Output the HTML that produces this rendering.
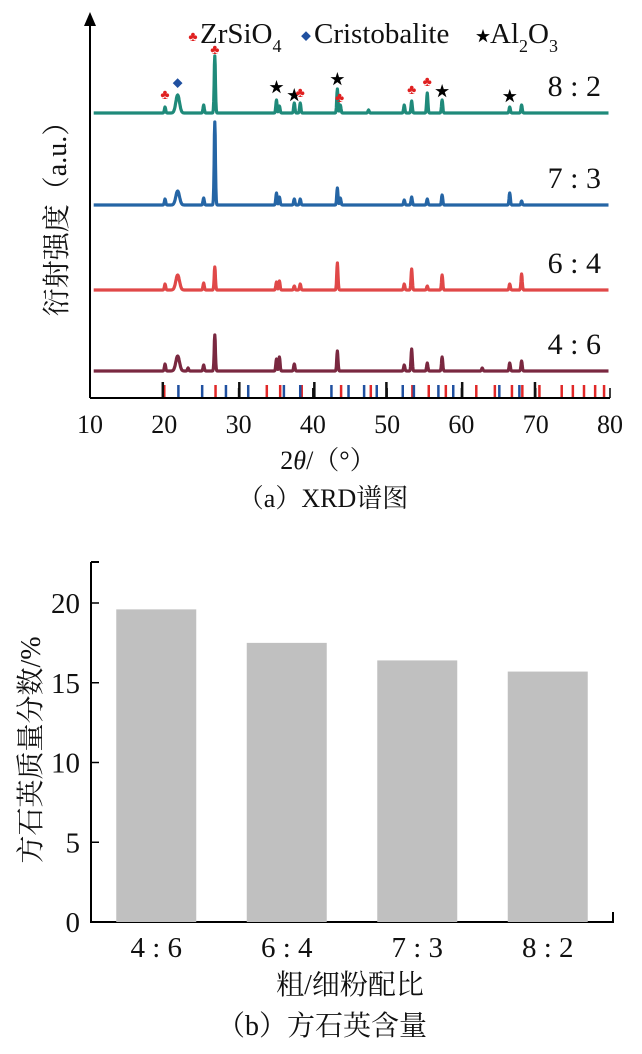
<!DOCTYPE html>
<html><head><meta charset="utf-8"><style>
html,body{margin:0;padding:0;background:#fff;width:642px;height:1054px;overflow:hidden}
svg{display:block}
text{font-family:"Liberation Serif","Noto Serif CJK SC","Noto Sans CJK SC",serif;fill:#111}
</style></head><body>
<svg id="chart" width="642" height="1054" viewBox="0 0 642 1054">
<g id="xrd"></g>
<g id="bar"></g>
</svg>
<script>
// ---------- XRD data ----------
const xrdSeries = ["8：2","7：3","6：4","4：6"];
const xrdBaselines = [113,205,290,371];
const xrdColors = ["#1f8a7a","#2565a5","#e04848","#7a2840"];
const peaks82 = [[20.1,6],[21.8,18],[25.3,8],[26.8,57],[35.1,13],[35.5,7],[37.5,10],[38.3,10],[43.3,24],[43.7,8],[47.5,3],[52.3,8],[53.3,12],[55.4,20],[57.4,13],[66.5,6],[68.1,8]];
const peaks73 = [[20.1,6],[21.8,14],[25.3,7],[26.8,83],[35.1,12],[35.5,8],[37.5,6],[38.3,6],[43.3,17],[43.7,7],[52.3,5],[53.3,8],[55.4,6],[57.4,10],[66.5,12],[68.1,4]];
const peaks64 = [[20.1,6],[21.8,15],[25.3,7],[26.8,23],[35.1,8],[35.5,9],[37.5,4],[38.3,6],[43.3,27],[52.3,6],[53.3,21],[55.4,4],[57.4,15],[66.5,6],[68.1,16]];
const peaks46 = [[20.1,7],[21.8,15],[23.2,3],[25.3,6],[26.8,36],[35.1,12],[35.5,14],[37.5,7],[43.3,20],[52.3,6],[53.3,22],[55.4,8],[57.4,14],[62.8,3],[66.5,8],[68.1,10]];
const xrdPeaks = [peaks82,peaks73,peaks64,peaks46];
const xTicks = [10,20,30,40,50,60,70,80];
const refZr = [20.0,26.9,33.8,35.6,38.5,43.8,47.8,53.4,55.6,57.9,62.0,64.5,66.8,68.2,70.5,73.5,75,76.5,78,79.2];
const refCr = [21.9,25.1,28.3,31.3,36.1,38.3,42.5,44.8,46.9,48.6,52.1,53.6,56.9,58.9,65.1,67.8];
const refAl = [19.8,30.1,40.2,49.9,60.1,69.9];
const markerPos = [[20.1,95,"club"],[21.8,83,"diamond"],[26.8,50,"club"],[35.1,88,"star"],[37.5,96,"star"],[38.3,93,"club"],[43.3,80,"star"],[43.6,98,"club"],[53.3,90,"club"],[55.4,82,"club"],[57.4,92,"star"],[66.5,97,"star"]];

const NS="http://www.w3.org/2000/svg";
function mk(tag,attrs,parent){const e=document.createElementNS(NS,tag);for(const k in attrs)e.setAttribute(k,attrs[k]);parent.appendChild(e);return e;}
const X0=90,X1=610;
function xs(t){return X0+(t-10)*(X1-X0)/70;}
const g=document.getElementById('xrd');

let ax=mk('path',{d:`M${X0} 398 H${X1} M${X0} 398 V20`,stroke:'#000','stroke-width':2,fill:'none'},g);


let ar=mk('path',{d:`M${X0-6} 26 L${X0} 12 L${X0+6} 26 Z`,fill:'#000'},g);


xTicks.forEach(t=>{
  let tk=mk('line',{x1:xs(t),x2:xs(t),y1:398,y2:388,stroke:'#000','stroke-width':1.5},g);
  
  
  let tl=mk('text',{x:xs(t),y:433,'text-anchor':'middle','font-size':26},g);
  tl.textContent=t;
  
  
});
function sticks(arr,color,h){arr.forEach(t=>{let s=mk('line',{x1:xs(t),x2:xs(t),y1:397,y2:397-h,stroke:color,'stroke-width':2.5},g);
  
  });}
sticks(refZr,'#e02828',12);sticks(refCr,'#2050a0',12);sticks(refAl,'#111',15);

xrdPeaks.forEach((pk,i)=>{
  let d='';
  for(let t=10.5;t<=79.8;t+=0.05){
    let y=0;
    pk.forEach(p=>{const w=(p[0]>21&&p[0]<22.5)?0.35:0.12;y+=p[1]*Math.exp(-Math.pow((t-p[0])/w,2));});
    d+=(d?'L':'M')+xs(t).toFixed(1)+' '+(xrdBaselines[i]-y).toFixed(1);
  }
  let p=mk('path',{d:d,stroke:xrdColors[i],'stroke-width':3.2,fill:'none','stroke-linejoin':'round'},g);
  
  
  let l=mk('text',{x:601,y:xrdBaselines[i]-17,'text-anchor':'end','font-size':30},g);
  l.textContent=xrdSeries[i].replace('：',' : ');
  
  
});
function marker(type,x,y){
  let t=mk('text',{x:x,y:y,'text-anchor':'middle','font-size':type==='star'?15:(type==='diamond'?10:14),'font-family':'DejaVu Sans'},g);
  t.textContent=type==='club'?'♣':type==='diamond'?'◆':'★';
  t.style.fill=type==='club'?'#e02020':type==='diamond'?'#2050a0':'#000';
  
  
}
markerPos.forEach(m=>marker(m[2],xs(m[0]),m[1]+4));
marker('club',193,41);marker('diamond',306,40);marker('star',483,41);
let lg=mk('text',{x:200,y:43,'font-size':29},g);
lg.innerHTML='ZrSiO<tspan font-size="18" dy="9">4</tspan>';

lg=mk('text',{x:314,y:43,'font-size':29},g);lg.textContent='Cristobalite';

lg=mk('text',{x:490,y:43,'font-size':29},g);
lg.innerHTML='Al<tspan font-size="18" dy="9">2</tspan><tspan dy="-9">O</tspan><tspan font-size="18" dy="9">3</tspan>';

let yt=mk('text',{x:0,y:0,'font-size':28,'text-anchor':'middle',transform:'translate(66,212) rotate(-90)'},g);
yt.textContent='衍射强度（a.u.）';

let xt=mk('text',{x:328,y:469,'font-size':26,'text-anchor':'middle'},g);
xt.innerHTML='2<tspan font-style="italic">θ</tspan>/（°）';

let c1=mk('text',{x:323,y:507,'font-size':26,'text-anchor':'middle'},g);
c1.textContent='（a）XRD谱图';


// ---------- Bar data ----------
const barCats = ["4：6","6：4","7：3","8：2"];
const barVals = [19.6,17.5,16.4,15.7];
const yTicks = [0,5,10,15,20];
const b=document.getElementById('bar');
const BX0=91,BX1=613,BY0=922;
function ys(v){return BY0-v*15.95;}
let bax=mk('path',{d:`M${BX0} 562 V${BY0} H${BX1} V912`,stroke:'#000','stroke-width':2,fill:'none'},b);

mk('line',{x1:BX0,x2:BX0+8,y1:562,y2:562,stroke:'#000','stroke-width':2},b);
yTicks.forEach(v=>{
  let tk=mk('line',{x1:BX0,x2:BX0+8,y1:ys(v),y2:ys(v),stroke:'#000','stroke-width':1.5},b);
  
  let tl=mk('text',{x:80,y:ys(v)+10,'text-anchor':'end','font-size':29},b);
  tl.textContent=v;
  
});
const slot=(BX1-BX0)/4;
barCats.forEach((c,i)=>{
  const cx=BX0+slot*(i+0.5);
  let r=mk('rect',{x:cx-40,y:ys(barVals[i]),width:80,height:BY0-ys(barVals[i]),fill:'#c0c0c0'},b);
  
  
  let tl=mk('text',{x:cx,y:957,'text-anchor':'middle','font-size':29},b);
  tl.textContent=c.replace('：',' : ');
  
});
let byt=mk('text',{x:0,y:0,'font-size':28,'text-anchor':'middle',transform:'translate(40,750) rotate(-90)'},b);
byt.textContent='方石英质量分数/%';

let bxt=mk('text',{x:350,y:994,'font-size':28,'text-anchor':'middle'},b);
bxt.textContent='粗/细粉配比';

let c2=mk('text',{x:322,y:1035,'font-size':28,'text-anchor':'middle'},b);
c2.textContent='（b）方石英含量';

</script>
</body></html>
